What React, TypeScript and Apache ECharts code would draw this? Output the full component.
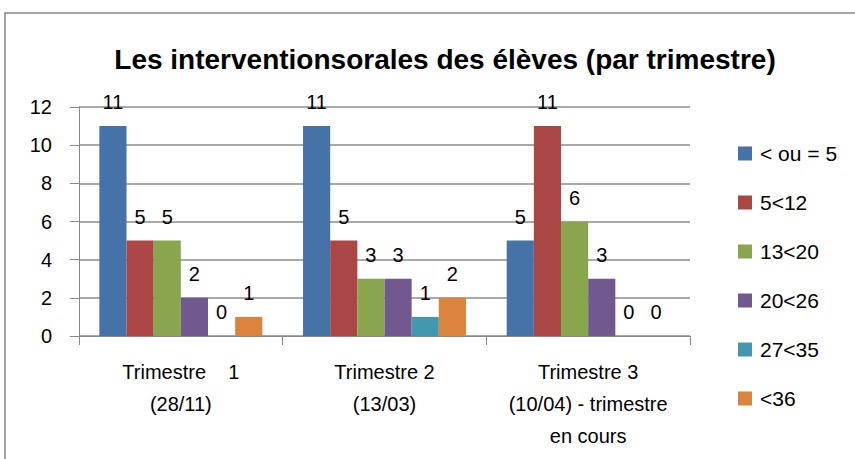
import React, { useEffect, useRef } from "react";
import * as echarts from "echarts";

const categories = ["Trimestre    1\n(28/11)", "Trimestre 2\n(13/03)", "Trimestre 3\n(10/04) - trimestre\nen cours"];
const seriesNames = ["< ou = 5", "5<12", "13<20", "20<26", "27<35", "<36"];
const s1 = [11, 11, 5];
const s2 = [5, 5, 11];
const s3 = [5, 3, 6];
const s4 = [2, 3, 3];
const s5 = [0, 1, 0];
const s6 = [1, 2, 0];
const colors = ["#4572A7", "#AA4643", "#89A54E", "#71588F", "#4198AF", "#DB843D"];
const yTicks = [0, 2, 4, 6, 8, 10, 12];

const FONT = "Liberation Sans";

export default function App() {
  const ref = useRef<HTMLDivElement>(null);
  useEffect(() => {
    document.body.style.margin = "0";
    const chart = echarts.init(ref.current!, null, { renderer: "svg" });
    const values = [s1, s2, s3, s4, s5, s6];
    chart.setOption({
      animation: false,
      backgroundColor: "#ffffff",
      title: {
        text: "Les interventionsorales des élèves (par trimestre)",
        left: 440,
        textAlign: "center",
        top: 40,
        textStyle: { fontFamily: FONT, fontWeight: "bold", fontSize: 28, color: "#000" },
      },
      legend: {
        orient: "vertical",
        left: 733,
        top: 138,
        itemWidth: 14,
        itemHeight: 14,
        itemGap: 28,
        icon: "rect",
        textStyle: { fontFamily: FONT, fontSize: 21, color: "#000", padding: [0, 0, 0, 3] },
        data: seriesNames,
      },
      grid: { left: 79, right: 165, top: 107, bottom: 123, containLabel: false },
      xAxis: {
        type: "category",
        data: categories,
        axisLine: { lineStyle: { color: "#888", width: 1 } },
        axisTick: { show: true, length: 9, lineStyle: { color: "#888" } },
        axisLabel: {
          fontFamily: FONT,
          fontSize: 20,
          color: "#000",
          lineHeight: 32,
          margin: 20,
          interval: 0,
        },
      },
      yAxis: {
        type: "value",
        min: 0,
        max: 12,
        interval: 2,
        axisLine: { show: true, lineStyle: { color: "#888" } },
        axisTick: { show: true, length: 9, lineStyle: { color: "#888" } },
        splitLine: { lineStyle: { color: "#8c8c8c", width: 1.5 } },
        axisLabel: {
          fontFamily: FONT,
          fontSize: 20,
          color: "#000",
          margin: 27,
          formatter: (v: number) => (yTicks.includes(v) ? String(v) : ""),
        },
      },
      series: seriesNames.map((name, i) => ({
        name,
        type: "bar",
        data: values[i],
        barGap: "0%",
        barCategoryGap: "20%",
        itemStyle: { color: colors[i] },
        label: {
          show: true,
          position: "top",
          distance: 14,
          fontFamily: FONT,
          fontSize: 20,
          color: "#000",
        },
      })),
      graphic: [
        {
          type: "rect",
          shape: { x: 5, y: 13, width: 870, height: 470 },
          style: { fill: "none", stroke: "#888", lineWidth: 1.5 },
          silent: true,
        },
      ],
    });
    return () => chart.dispose();
  }, []);
  return <div ref={ref} style={{ width: 855, height: 459 }} />;
}
